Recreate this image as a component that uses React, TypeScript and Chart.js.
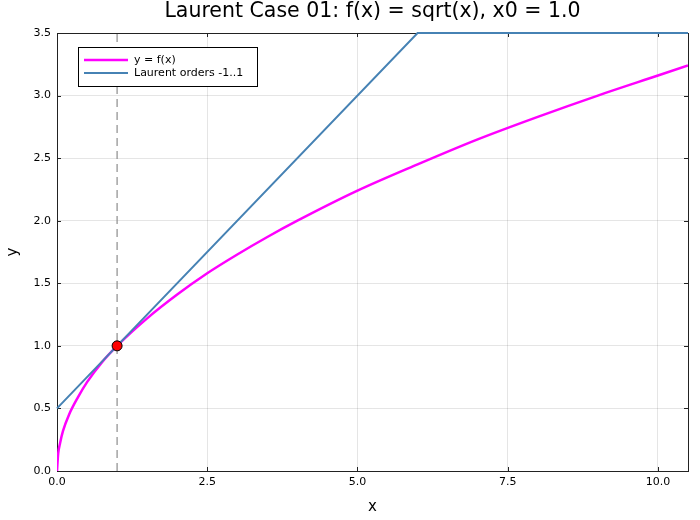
import React, { useEffect, useRef } from "react";
import { Chart, registerables } from "chart.js";

Chart.register(...registerables);

const TITLE = "Laurent Case 01: f(x) = sqrt(x), x0 = 1.0";
const fX = [0, 0.02, 0.05, 0.1, 0.2, 0.35, 0.5, 0.75, 1, 1.5, 2, 2.5, 3, 3.5, 4, 5, 6, 7, 8, 9, 10, 10.5];
const fY = [0, 0.14, 0.22, 0.32, 0.45, 0.59, 0.71, 0.87, 1.0, 1.22, 1.41, 1.58, 1.73, 1.87, 2.0, 2.24, 2.45, 2.65, 2.83, 3.0, 3.16, 3.24];
const laurentX = [0, 6, 10.5];
const laurentY = [0.5, 3.5, 3.5];
const x0 = 1.0;
const fx0 = 1.0;
const xTicks = [0, 2.5, 5, 7.5, 10];
const yTicks = [0, 0.5, 1, 1.5, 2, 2.5, 3, 3.5];
const legendLabels = ["y = f(x)", "Laurent orders -1..1"];
const FONT = "'DejaVu Sans', sans-serif";

export default function App() {
  const ref = useRef<HTMLCanvasElement>(null);
  useEffect(() => {
    document.body.style.margin = "0";
    const ctx = ref.current!;
    const framePlugin = {
      id: "frame",
      beforeDatasetsDraw(chart: any) {
        const c = chart.ctx;
        const a = chart.chartArea;
        c.save();
        c.strokeStyle = "#222";
        c.lineWidth = 1;
        c.strokeRect(Math.round(a.left) + 0.5, Math.round(a.top) + 0.5, Math.round(a.right - a.left), Math.round(a.bottom - a.top));
        const xs = chart.scales.x;
        const ys = chart.scales.y;
        xTicks.forEach((v) => {
          const px = Math.round(xs.getPixelForValue(v)) + 0.5;
          c.beginPath();
          c.moveTo(px, a.bottom);
          c.lineTo(px, a.bottom - 4);
          c.moveTo(px, a.top);
          c.lineTo(px, a.top + 4);
          c.stroke();
        });
        yTicks.forEach((v) => {
          const py = Math.round(ys.getPixelForValue(v)) + 0.5;
          c.beginPath();
          c.moveTo(a.left, py);
          c.lineTo(a.left + 4, py);
          c.moveTo(a.right, py);
          c.lineTo(a.right - 4, py);
          c.stroke();
        });
        c.restore();
      },
      afterDraw(chart: any) {
        const c = chart.ctx;
        const a = chart.chartArea;
        c.save();
        c.fillStyle = "#000";
        c.font = `20.5px ${FONT}`;
        c.textAlign = "center";
        c.textBaseline = "middle";
        c.fillText(TITLE, (a.left + a.right) / 2, 12);
        const lx = 78, ly = 47, lw = 179, lh = 39;
        c.fillStyle = "#fff";
        c.fillRect(lx, ly, lw, lh);
        c.strokeStyle = "#000";
        c.lineWidth = 1;
        c.strokeRect(lx + 0.5, ly + 0.5, lw, lh);
        const colors = ["#ff00ff", "#4682b4"];
        const widths = [2.5, 2];
        legendLabels.forEach((t, i) => {
          const yy = ly + 13 + i * 13;
          c.strokeStyle = colors[i];
          c.lineWidth = widths[i];
          c.beginPath();
          c.moveTo(lx + 6, yy);
          c.lineTo(lx + 50, yy);
          c.stroke();
          c.fillStyle = "#000";
          c.font = `11px ${FONT}`;
          c.textAlign = "left";
          c.textBaseline = "middle";
          c.fillText(t, lx + 56, yy);
        });
        c.restore();
      },
    };
    const chart = new Chart(ctx, {
      type: "line",
      data: {
        datasets: [
          {
            label: "vline",
            data: [{ x: x0, y: 0 }, { x: x0, y: 3.5 }],
            borderColor: "#8c8c8c",
            borderWidth: 1.2,
            borderDash: [8, 5],
            pointRadius: 0,
            order: 5,
          },
          {
            label: legendLabels[0],
            data: fX.map((x, i) => ({ x, y: fY[i] })),
            borderColor: "#ff00ff",
            borderWidth: 2.5,
            pointRadius: 0,
            cubicInterpolationMode: "monotone",
            order: 3,
          },
          {
            label: legendLabels[1],
            data: laurentX.map((x, i) => ({ x, y: laurentY[i] })),
            borderColor: "#4682b4",
            borderWidth: 2,
            pointRadius: 0,
            clip: 2,
            order: 2,
          },
          {
            label: "x0",
            data: [{ x: x0, y: fx0 }],
            showLine: false,
            pointRadius: 5,
            pointBackgroundColor: "#ff0000",
            pointBorderColor: "#000",
            pointBorderWidth: 1,
            order: 1,
          },
        ],
      },
      options: {
        animation: false,
        responsive: false,
        layout: { padding: { top: 33, right: 12, left: 0, bottom: 0 } },
        plugins: { legend: { display: false }, title: { display: false }, tooltip: { enabled: false } },
        scales: {
          x: {
            type: "linear",
            min: 0,
            max: 10.5,
            afterFit(s: any) { s.height = 49; },
            afterBuildTicks(s: any) { s.ticks = xTicks.map((v) => ({ value: v })); },
            ticks: { font: { family: FONT, size: 11 }, color: "#000", padding: 5, maxRotation: 0, callback: (v: any) => Number(v).toFixed(1) },
            grid: { color: "rgba(0,0,0,0.1)", drawTicks: false },
            border: { display: false },
            title: { display: true, text: "x", font: { family: FONT, size: 15 }, color: "#000", padding: { top: 6 } },
          },
          y: {
            type: "linear",
            min: 0,
            max: 3.5,
            afterFit(s: any) { s.width = 57; },
            afterBuildTicks(s: any) { s.ticks = yTicks.map((v) => ({ value: v })); },
            ticks: { font: { family: FONT, size: 11 }, color: "#000", padding: 6, callback: (v: any) => Number(v).toFixed(1) },
            grid: { color: "rgba(0,0,0,0.1)", drawTicks: false },
            border: { display: false },
            title: { display: true, text: "y", font: { family: FONT, size: 15 }, color: "#000", padding: { top: 4, bottom: 0 } },
          },
        },
      },
      plugins: [framePlugin],
    } as any);
    return () => chart.destroy();
  }, []);
  return (
    <div style={{ width: 700, height: 520 }}>
      <canvas ref={ref} width={700} height={520} style={{ display: "block" }} />
    </div>
  );
}
